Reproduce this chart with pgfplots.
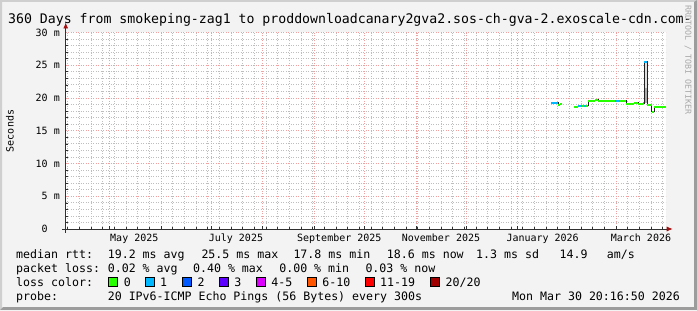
\documentclass[border=0pt]{standalone}
\usepackage{pgfplots}
\pgfplotsset{compat=1.18}
\usepackage{fontspec}
\setmainfont{DejaVu Sans Mono}
\usetikzlibrary{arrows.meta}
\definecolor{backc}{HTML}{F3F3F3}
\definecolor{shadea}{HTML}{CFCFCF}
\definecolor{shadeb}{HTML}{9C9C9C}
\definecolor{gridc}{HTML}{BEBEBE}
\definecolor{mgridc}{HTML}{EFA0A0}
\definecolor{axisc}{HTML}{303030}
\definecolor{arrowc}{HTML}{A01010}
\definecolor{lc0}{HTML}{26FF00}
\definecolor{lc1}{HTML}{00B8FF}
\definecolor{lc2}{HTML}{0059FF}
\definecolor{lc3}{HTML}{5E00FF}
\definecolor{lc4}{HTML}{DD00FF}
\definecolor{lc6}{HTML}{FF5500}
\definecolor{lc11}{HTML}{FF0000}
\definecolor{lc20}{HTML}{A10000}
\definecolor{medc}{HTML}{202020}
\definecolor{rrdc}{HTML}{A8A8A8}
\newcommand{\fs}[1]{\fontsize{#1bp}{#1bp}\selectfont}
\begin{document}
\begin{tikzpicture}[x=1bp,y=1bp]
\fill[backc] (0,0) rectangle (697,310);
\fill[shadea] (0,310) -- (697,310) -- (695,308) -- (2,308) -- (2,2) -- (0,0) -- cycle;
\fill[shadeb] (697,310) -- (697,0) -- (0,0) -- (3,3) -- (694,3) -- (694,308) -- cycle;
\begin{axis}[
  at={(65.7bp,81bp)}, anchor=origin,
  scale only axis, width=600bp, height=196.5bp,
  xmin=0, xmax=360, ymin=0, ymax=30,
  axis background/.style={fill=white},
  axis lines=left,
  axis line style={draw=axisc, line width=0.8bp},
  x axis line style={-{Latex[length=6bp,width=5bp,color=arrowc]}, shorten <=-3.5bp, shorten >=-7bp},
  y axis line style={-{Latex[length=6bp,width=5bp,color=arrowc]}, shorten <=-3.5bp, shorten >=-10bp},
  tick align=inside,
  xtick={41.155,102.155,164.155,225.155,286.155,345.155},
  xticklabels={May 2025,July 2025,September 2025,November 2025,January 2026,March 2026},
  major tick length=0pt,
  minor xtick={1.155,8.155,...,358.155},
  minor tick length=2bp,
  extra x ticks={26.155,57.155,87.155,118.155,149.155,179.155,210.155,240.155,271.155,302.155,330.155},
  extra x tick labels={},
  extra x tick style={xmajorgrids=true, major tick length=3bp},
  ytick={0,5,...,30},
  yticklabels={0\hphantom{ m},5 m,10 m,15 m,20 m,25 m,30 m},
  minor ytick={1,2,3,4,6,7,8,9,11,12,13,14,16,17,18,19,21,22,23,24,26,27,28,29},
  xmajorgrids=false, xminorgrids=true, ymajorgrids=true, yminorgrids=true,
  minor grid style={draw=gridc, line width=0.8bp, dash pattern=on 1bp off 1.5bp},
  major grid style={draw=mgridc, line width=0.8bp, dash pattern=on 1bp off 1.5bp},
  tick style={draw=axisc, line width=0.6bp},
  xticklabel style={font=\fs{10}, anchor=base, inner sep=0pt, yshift=-12.7bp},
  yticklabel style={font=\fs{10}, anchor=east, inner sep=0pt, xshift=-5.7bp},
  unbounded coords=jump,
  clip=false,
]
% smoke of the spike
\addplot[draw=gray!25, line width=2.2bp, line cap=butt] coordinates {(348.0,21.5) (348.0,25.5)};
\addplot[draw=gray!65, line width=2.2bp, line cap=butt] coordinates {(348.0,19.2) (348.0,21.5)};
% median (dark step line)
\addplot[const plot, draw=medc, line width=1bp] coordinates {
(291.2,19.3) (295.4,18.95) (296.6,19.1) (297.8,19.1) (297.8,nan)
(305.1,18.55) (306.3,18.7) (307.5,18.8) (313.5,19.6) (317.7,19.75) (319.5,19.6)
(336.3,19.15) (341.1,19.3) (343.5,19.1) (346.5,19.2) (347.2,25.5) (348.8,18.9)
(351.5,17.9) (353.0,18.7) (360,18.7)};
% median coloured by loss: 0
\addplot[draw=lc0, line width=2bp, line cap=butt] coordinates {
(295.4,18.95) (296.6,18.95) (296.6,nan)
(296.6,19.1) (297.8,19.1) (297.8,nan)
(305.1,18.55) (306.3,18.55) (306.3,nan)
(306.3,18.7) (307.5,18.7) (307.5,nan)
(309.9,18.8) (311.1,18.8) (311.1,nan)
(312.3,18.8) (313.5,18.8) (313.5,nan)
(313.5,19.6) (317.7,19.6) (317.7,nan)
(317.7,19.75) (319.5,19.75) (319.5,nan)
(319.5,19.6) (329.7,19.6) (329.7,nan)
(332.7,19.6) (336.3,19.6) (336.3,nan)
(336.3,19.15) (341.1,19.15) (341.1,nan)
(341.1,19.3) (343.5,19.3) (343.5,nan)
(343.5,19.1) (346.5,19.1) (346.5,nan)
(348.8,18.9) (351.5,18.9) (351.5,nan)
(351.5,17.9) (353.0,17.9) (353.0,nan)
(353.0,18.7) (360,18.7)};
% median coloured by loss: 1
\addplot[draw=lc1, line width=2bp, line cap=butt] coordinates {
(291.2,19.3) (295.4,19.3) (295.4,nan)
(307.5,18.8) (309.9,18.8) (309.9,nan)
(311.1,18.8) (312.3,18.8) (312.3,nan)
(329.7,19.6) (332.7,19.6) (332.7,nan)
(346.5,19.2) (347.2,19.2) (347.2,nan)
(347.2,25.5) (348.8,25.5)};
\end{axis}
\node[rotate=90, font=\fs{10}, inner sep=0] at (10,179) {Seconds};
% title
\node[anchor=base west, inner sep=0, font=\fs{13.2}] at (8,286.7) {360 Days from smokeping-zag1 to proddownloadcanary2gva2.sos-ch-gva-2.exoscale-cdn.com-};
\node[rotate=-90, font=\fs{8.3}, text=rrdc, inner sep=0] at (688,250) {RRDTOOL / TOBI OETIKER};
% legend
\begin{scope}[every node/.style={anchor=base west, inner sep=0, font=\fs{11.6}}]
\node at (16,51.7) {median rtt:};
\node at (107.6,51.7) {19.2 ms avg};
\node at (201.3,51.7) {25.5 ms max};
\node at (293.3,51.7) {17.8 ms min};
\node at (386.7,51.7) {18.6 ms now};
\node at (476,51.7) {1.3 ms sd};
\node at (559.5,51.7) {14.9};
\node at (606.7,51.7) {am/s};
\node at (16,37.7) {packet loss:};
\node at (107.6,37.7) {0.02 \% avg};
\node at (192.9,37.7) {0.40 \% max};
\node at (279.1,37.7) {0.00 \% min};
\node at (365.3,37.7) {0.03 \% now};
\node at (16,23.7) {loss color:};
\node at (123.6,23.7) {0};
\node at (160,23.7) {1};
\node at (197.3,23.7) {2};
\node at (234.2,23.7) {3};
\node at (271.1,23.7) {4-5};
\node at (322.2,23.7) {6-10};
\node at (380,23.7) {11-19};
\node at (445.5,23.7) {20/20};
\node at (16,10) {probe:};
\node at (107.6,10) {20 IPv6-ICMP Echo Pings (56 Bytes) every 300s};
\node[anchor=base east] at (680,10) {Mon Mar 30 20:16:50 2026};
\end{scope}
\foreach \bx/\bc in {108/lc0,145.3/lc1,182.2/lc2,219.1/lc3,256.4/lc4,307.6/lc6,365.3/lc11,430.2/lc20}
  \filldraw[fill=\bc, draw=black, line width=0.8bp] (\bx,23.7) rectangle ++(9,9);
\pgfresetboundingbox
\path[use as bounding box] (0,0) rectangle (697,310);
\end{tikzpicture}
\end{document}
